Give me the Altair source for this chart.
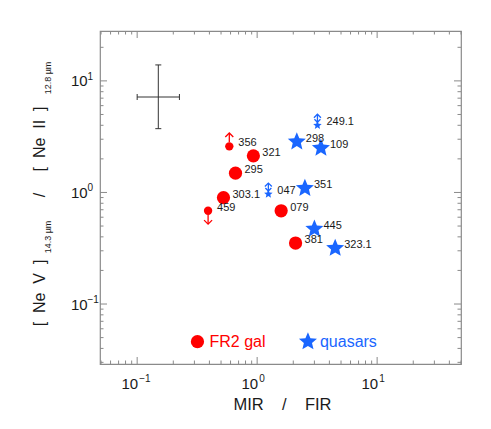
import altair as alt
import pandas as pd

# ---------------- data ----------------
gal_names = ["356", "321", "295", "303.1", "459", "079", "381"]
gal_x = [0.586, 0.93, 0.66, 0.524, 0.39, 1.585, 2.09]
gal_y = [2.59, 2.13, 1.49, 0.90, 0.685, 0.685, 0.352]
gal_limit = ["lower", "none", "none", "none", "upper", "none", "none"]

qso_names = ["249.1", "298", "109", "047", "351", "445", "323.1"]
qso_x = [3.18, 2.14, 3.40, 1.24, 2.50, 3.0, 4.47]
qso_y = [4.0, 2.85, 2.50, 0.967, 1.09, 0.47, 0.317]
qso_limit = ["both", "none", "none", "both", "none", "none", "none"]

err_center = [0.15, 7.17]
err_x_range = [0.1, 0.225]
err_y_range = [3.73, 13.9]

legend_labels = ["FR2 gal", "quasars"]
legend_x = [0.318, 2.65]
legend_y = [0.046, 0.046]

x_major = [0.1, 1, 10]
x_exp = ["\u22121", "0", "1"]
y_major = [0.1, 1, 10]
y_exp = ["\u22121", "0", "1"]
x_minor = [round(m * 10 ** e, 6) for e in (-2, -1, 0, 1) for m in range(2, 10)
           if 0.049 <= m * 10 ** e <= 50]
y_minor = [round(m * 10 ** e, 6) for e in (-2, -1, 0, 1) for m in range(2, 10)
           if 0.029 <= m * 10 ** e <= 28]

# ---------------- setup ----------------
W, H = 361, 333
RED = "#ff0000"
BLUE = "#1a66ff"
GRAY = "#8a8a8a"
TXT = "#1a1a1a"
FONT = "Liberation Sans"
STAR = ("M0,-1L0.2645,-0.364L0.9511,-0.309L0.428,0.139L0.5878,0.809L0,0.45"
        "L-0.5878,0.809L-0.428,0.139L-0.9511,-0.309L-0.2645,-0.364Z")

xs = alt.Scale(type="log", domain=[0.049, 50], nice=False)
ys = alt.Scale(type="log", domain=[0.029, 28], nice=False)


def X(f):
    return alt.X(f, type="quantitative", scale=xs, axis=None)


def Y(f):
    return alt.Y(f, type="quantitative", scale=ys, axis=None)


gal = pd.DataFrame({"name": gal_names, "x": gal_x, "y": gal_y, "lim": gal_limit})
qso = pd.DataFrame({"name": qso_names, "x": qso_x, "y": qso_y, "lim": qso_limit})
gal_det = gal[gal.lim == "none"]
gal_lo = gal[gal.lim == "lower"]
gal_up = gal[gal.lim == "upper"]
qso_det = qso[qso.lim == "none"]
qso_lim = qso[qso.lim != "none"]

xmaj = pd.DataFrame({"xv": x_major, "e": x_exp})
ymaj = pd.DataFrame({"yv": y_major, "e": y_exp})
xmin = pd.DataFrame({"xv": x_minor})
ymin = pd.DataFrame({"yv": y_minor})
err = pd.DataFrame({"x": [err_center[0]], "y": [err_center[1]],
                    "x1": [err_x_range[0]], "x2": [err_x_range[1]],
                    "y1": [err_y_range[0]], "y2": [err_y_range[1]]})
leg_g = pd.DataFrame({"t": legend_labels[:1], "x": legend_x[:1], "y": legend_y[:1]})
leg_q = pd.DataFrame({"t": legend_labels[1:], "x": legend_x[1:], "y": legend_y[1:]})
dummy = pd.DataFrame({"a": [0]})

layers = []

# ticks (inward, all four sides)
for df, L in ((xmaj, 7), (xmin, 3.5)):
    base = alt.Chart(df).mark_rule(color=GRAY, strokeWidth=1)
    layers.append(base.encode(x=X("xv"), y=alt.value(H), y2=alt.value(H - L)))
    layers.append(base.encode(x=X("xv"), y=alt.value(0), y2=alt.value(L)))
for df, L in ((ymaj, 7), (ymin, 3.5)):
    base = alt.Chart(df).mark_rule(color=GRAY, strokeWidth=1)
    layers.append(base.encode(y=Y("yv"), x=alt.value(0), x2=alt.value(L)))
    layers.append(base.encode(y=Y("yv"), x=alt.value(W), x2=alt.value(W - L)))

# error cross
ec = alt.Chart(err)
layers.append(ec.mark_rule(color="#333", strokeWidth=1).encode(x=X("x1"), x2="x2", y=Y("y")))
layers.append(ec.mark_rule(color="#333", strokeWidth=1).encode(x=X("x"), y=Y("y1"), y2="y2"))
for fx in ("x1", "x2"):
    layers.append(ec.mark_rule(color="#333", strokeWidth=1, yOffset=-3, y2Offset=3)
                  .encode(x=X(fx), y=Y("y"), y2="y"))
for fy in ("y1", "y2"):
    layers.append(ec.mark_rule(color="#333", strokeWidth=1, xOffset=-3, x2Offset=3)
                  .encode(y=Y(fy), x=X("x"), x2="x"))

# galaxies
layers.append(alt.Chart(gal_det)
              .mark_point(shape="circle", filled=True, color=RED, size=175, opacity=1)
              .encode(x=X("x"), y=Y("y")))
layers.append(alt.Chart(pd.concat([gal_lo, gal_up]))
              .mark_point(shape="circle", filled=True, color=RED, size=70, opacity=1)
              .encode(x=X("x"), y=Y("y")))
layers.append(alt.Chart(gal_lo).mark_rule(color=RED, strokeWidth=1.3, yOffset=-4, y2Offset=-13.4)
              .encode(x=X("x"), y=Y("y"), y2="y"))
layers.append(alt.Chart(gal_lo).mark_point(shape="M-1,1L0,0L1,1", filled=False, color=RED,
                                           size=64, strokeWidth=1.3, opacity=1, yOffset=-13.4)
              .encode(x=X("x"), y=Y("y")))
layers.append(alt.Chart(gal_up).mark_rule(color=RED, strokeWidth=1.3, yOffset=4, y2Offset=13.3)
              .encode(x=X("x"), y=Y("y"), y2="y"))
layers.append(alt.Chart(gal_up).mark_point(shape="M-1,-1L0,0L1,-1", filled=False, color=RED,
                                           size=64, strokeWidth=1.3, opacity=1, yOffset=13.3)
              .encode(x=X("x"), y=Y("y")))

# quasars
layers.append(alt.Chart(qso_det)
              .mark_point(shape=STAR, filled=True, color=BLUE, size=360, opacity=1)
              .encode(x=X("x"), y=Y("y")))
layers.append(alt.Chart(qso_lim)
              .mark_point(shape=STAR, filled=True, color=BLUE, size=80, opacity=1)
              .encode(x=X("x"), y=Y("y")))
layers.append(alt.Chart(qso_lim).mark_rule(color=BLUE, strokeWidth=1.3, yOffset=-2, y2Offset=-11)
              .encode(x=X("x"), y=Y("y"), y2="y"))
layers.append(alt.Chart(qso_lim).mark_point(shape="M-1,1L0,0L1,1", filled=False, color=BLUE,
                                            size=49, strokeWidth=1.3, opacity=1, yOffset=-11)
              .encode(x=X("x"), y=Y("y")))
layers.append(alt.Chart(qso_lim).mark_point(shape="M-1,-1L0,0L1,-1", filled=False, color=BLUE,
                                            size=36, strokeWidth=1.3, opacity=1, yOffset=-3)
              .encode(x=X("x"), y=Y("y")))

# point labels
for src in (gal, qso):
    layers.append(alt.Chart(src).mark_text(align="left", baseline="middle", dx=9, dy=-3,
                                           fontSize=11, font=FONT, color=TXT)
                  .encode(x=X("x"), y=Y("y"), text="name:N"))

# legend
layers.append(alt.Chart(leg_g)
              .mark_point(shape="circle", filled=True, color=RED, size=175, opacity=1)
              .encode(x=X("x"), y=Y("y")))
layers.append(alt.Chart(leg_q)
              .mark_point(shape=STAR, filled=True, color=BLUE, size=360, opacity=1)
              .encode(x=X("x"), y=Y("y")))
layers.append(alt.Chart(leg_g).mark_text(align="left", baseline="middle", dx=12, fontSize=16,
                                         font=FONT, color=RED)
              .encode(x=X("x"), y=Y("y"), text="t:N"))
layers.append(alt.Chart(leg_q).mark_text(align="left", baseline="middle", dx=12, fontSize=16,
                                         font=FONT, color=BLUE)
              .encode(x=X("x"), y=Y("y"), text="t:N"))

# tick labels
layers.append(alt.Chart(xmaj).mark_text(align="right", baseline="alphabetic", dx=1,
                                        fontSize=15, font=FONT, color=TXT)
              .encode(x=X("xv"), y=alt.value(H + 25), text=alt.value("10")))
layers.append(alt.Chart(xmaj).mark_text(align="left", baseline="alphabetic", dx=2, fontSize=10,
                                        font=FONT, color=TXT)
              .encode(x=X("xv"), y=alt.value(H + 18), text="e:N"))
layers.append(alt.Chart(ymaj).mark_text(align="left", baseline="alphabetic", dy=5.5,
                                        fontSize=15, font=FONT, color=TXT)
              .encode(y=Y("yv"), x=alt.value(-29), text=alt.value("10")))
layers.append(alt.Chart(ymaj).mark_text(align="left", baseline="alphabetic", dy=-1, fontSize=10,
                                        font=FONT, color=TXT)
              .encode(y=Y("yv"), x=alt.value(-12.5), text="e:N"))

# axis titles
NB = "\u00a0"
layers.append(alt.Chart(dummy).mark_text(align="center", baseline="alphabetic", fontSize=16.5,
                                         font=FONT, color=TXT)
              .encode(x=alt.value(W / 2 + 2), y=alt.value(H + 46),
                      text=alt.value("MIR" + NB * 4 + "/" + NB * 4 + "FIR")))
ytitle = [
    ("[" + NB * 2 + "Ne" + NB * 2 + "V" + NB * 2 + "]", 16, -60, 262),
    ("14.3\u00a0\u00b5m", 9, -52, 206),
    ("/", 16, -60, 164),
    ("[" + NB * 2 + "Ne" + NB * 2 + "II" + NB * 2 + "]", 16, -60, 108),
    ("12.8\u00a0\u00b5m", 9, -52, 47),
]
for t, fs, px, py in ytitle:
    layers.append(alt.Chart(dummy).mark_text(align="center", baseline="middle", angle=270,
                                             fontSize=fs, font=FONT, color=TXT)
                  .encode(x=alt.value(px), y=alt.value(py), text=alt.value(t)))

chart = alt.layer(*layers).properties(
    width=W, height=H,
    autosize=alt.AutoSizeParams(type="none"),
    padding={"left": 92, "top": 23, "right": 22, "bottom": 57},
).configure_view(stroke=GRAY, strokeWidth=1.2)

chart.save("out.html", embed_options={"renderer": "svg", "actions": False})
